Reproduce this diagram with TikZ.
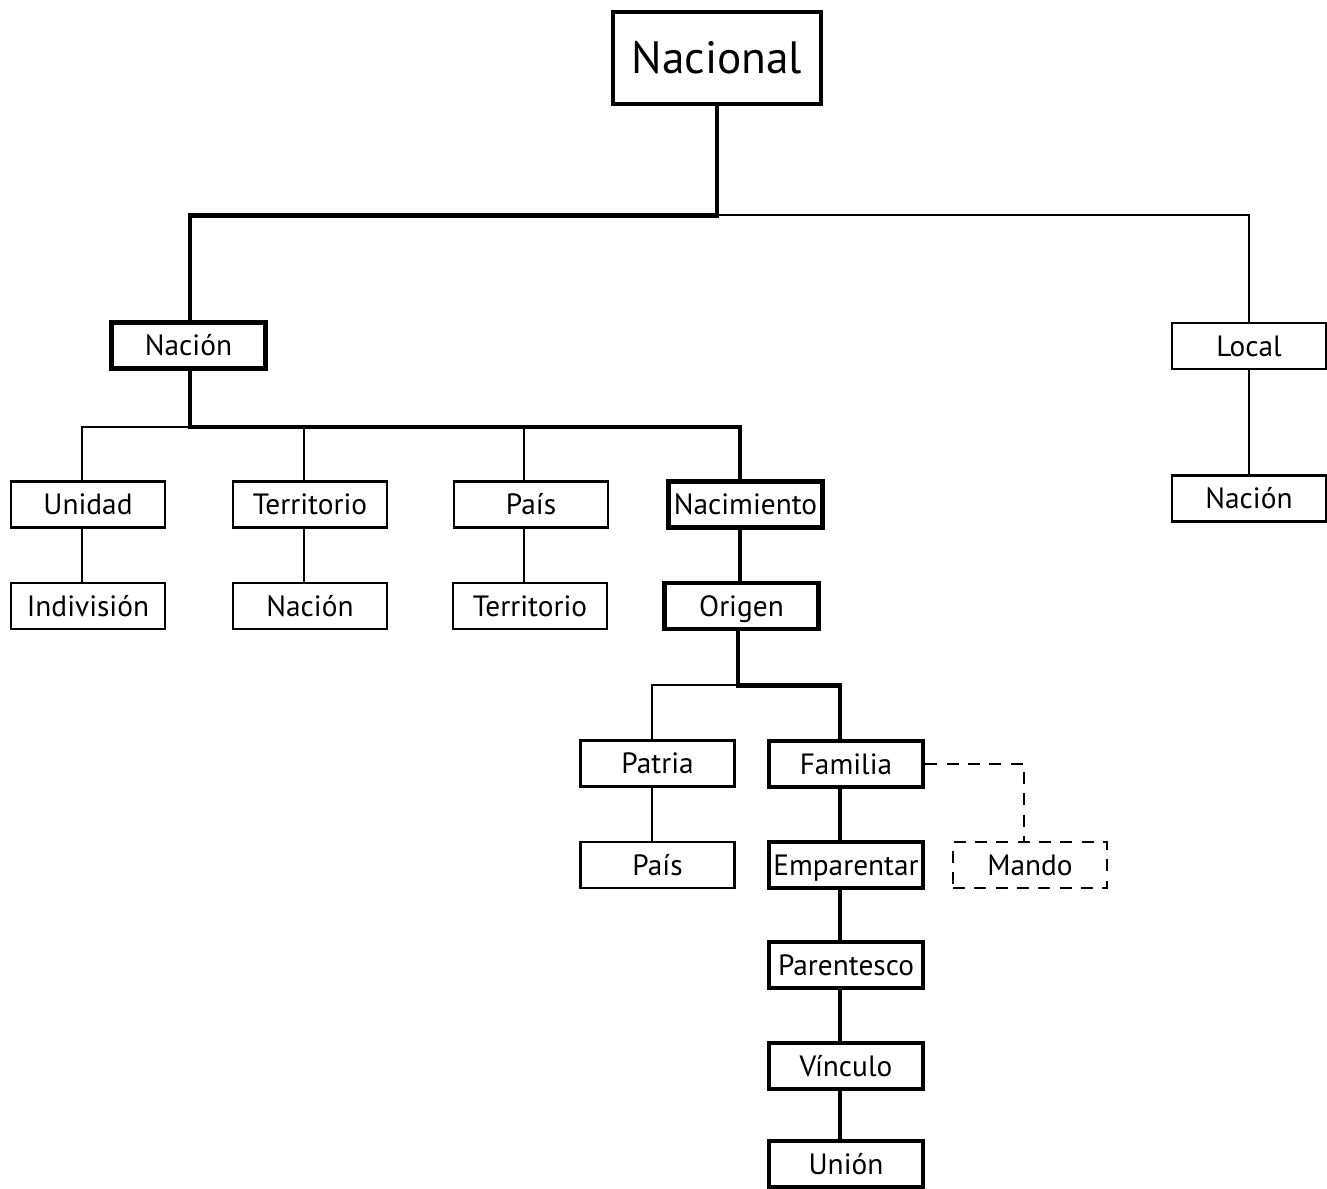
\documentclass[tikz,border=0pt]{standalone}
\usepackage{fontspec}
\setmainfont{PT Sans}
\begin{document}
\begin{tikzpicture}[x=0.75pt,y=-0.75pt,
  box/.style={draw, line width=1.6pt, minimum width=115.5pt, minimum height=34.5pt,
    inner sep=0pt, text height=15.4pt, text depth=0pt, font=\fontsize{22}{26}\selectfont},
  boldbox/.style={box, line width=3.4pt},
  dashbox/.style={box, line width=1.5pt, dash pattern=on 9pt off 7pt},
  thinline/.style={line width=1.5pt},
  thickline/.style={line width=3.4pt},
  dashline/.style={line width=1.5pt, dash pattern=on 9pt off 7pt}]
\fill[white] (0,0) rectangle (1327,1188);
\useasboundingbox (0,0) rectangle (1327,1188);

% root
\node[boldbox, minimum width=156pt, minimum height=69pt, text height=24pt,
  font=\fontsize{34}{40}\selectfont] (nacional) at (717,58) {Nacional};

% first level
\node[boldbox] (nacion1) at (188.5,345.5) {Nación};
\node[box] (local) at (1249,346) {Local};
\node[box] (nacion2) at (1249,498.5) {Nación};

% second level
\node[box] (unidad) at (88,504.5) {Unidad};
\node[box] (territorio1) at (310,504.5) {Territorio};
\node[box] (pais1) at (531,504.5) {País};
\node[boldbox] (nacimiento) at (745.5,504.5) {Nacimiento};

\node[box] (indivision) at (88,606) {Indivisión};
\node[box] (nacion3) at (310,606) {Nación};
\node[box] (territorio2) at (530,606) {Territorio};
\node[boldbox] (origen) at (741.5,606) {Origen};

% lower branches
\node[box] (patria) at (657.5,763.5) {Patria};
\node[box] (pais2) at (657.5,865) {País};
\node[boldbox] (familia) at (846,764) {Familia};
\node[boldbox] (emparentar) at (846,865) {Emparentar};
\node[boldbox] (parentesco) at (846,965) {Parentesco};
\node[boldbox] (vinculo) at (846,1066) {Vínculo};
\node[boldbox] (union) at (846,1164) {Unión};
\node[dashbox] (mando) at (1030,865) {Mando};

% connectors from the root
\path (nacional.south) ++(0,109) coordinate (jA);
\draw[thinline] (jA) -| (local.north);
\draw[thickline] (nacional.south) -- (jA) -| ([xshift=1pt]nacion1.north);
\draw[thinline] (local) -- (nacion2);

% connectors under Nación
\path ([xshift=1pt]nacion1.south) ++(0,56) coordinate (jB);
\draw[thinline] (jB) -| ([xshift=-4.5pt]unidad.north);
\draw[thinline] ([xshift=-4.5pt]territorio1.north) -- ([xshift=-4.5pt]territorio1.north |- jB);
\draw[thinline] ([xshift=-5pt]pais1.north) -- ([xshift=-5pt]pais1.north |- jB);
\draw[thickline] ([xshift=1pt]nacion1.south) -- (jB) -| ([xshift=-4pt]nacimiento.north);

\draw[thinline] ([xshift=-4.5pt]unidad.south) -- ([xshift=-4.5pt]indivision.north);
\draw[thinline] ([xshift=-4.5pt]territorio1.south) -- ([xshift=-4.5pt]nacion3.north);
\draw[thinline] ([xshift=-5pt]pais1.south) -- ([xshift=-5pt]pais1.south |- territorio2.north);
\draw[thickline] ([xshift=-4pt]nacimiento.south) -- ([xshift=-4pt]nacimiento.south |- origen.north);

% connectors under Origen
\path ([xshift=-2.5pt]origen.south) ++(0,54) coordinate (jC);
\draw[thinline] (jC) -| ([xshift=-4pt]patria.north);
\draw[thickline] ([xshift=-2.5pt]origen.south) -- (jC) -| ([xshift=-4.5pt]familia.north);
\draw[thinline] ([xshift=-4pt]patria.south) -- ([xshift=-4pt]pais2.north);

\draw[thickline] ([xshift=-4.5pt]familia.south) -- ([xshift=-4.5pt]emparentar.north);
\draw[thickline] ([xshift=-4.5pt]emparentar.south) -- ([xshift=-4.5pt]parentesco.north);
\draw[thickline] ([xshift=-4.5pt]parentesco.south) -- ([xshift=-4.5pt]vinculo.north);
\draw[thickline] ([xshift=-4.5pt]vinculo.south) -- ([xshift=-4.5pt]union.north);

% dashed link
\draw[dashline] (familia.east) -| ([xshift=-4.5pt]mando.north);
\end{tikzpicture}
\end{document}
